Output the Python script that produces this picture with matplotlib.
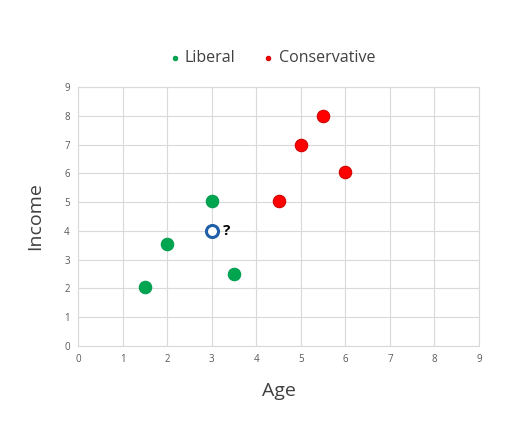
import matplotlib
matplotlib.use("Agg")
import matplotlib.pyplot as plt

lib_age = [1.5, 2.0, 3.0, 3.5]
lib_income = [2.05, 3.55, 5.05, 2.5]
con_age = [4.5, 5.0, 5.5, 6.0]
con_income = [5.05, 7.0, 8.0, 6.05]
unk_age = [3.0]
unk_income = [4.0]
unk_label = "?"

plt.rcParams['font.family'] = ['Open Sans', 'DejaVu Sans']

fig = plt.figure(figsize=(5.29, 4.23), dpi=100)
ax = fig.add_axes([78/529, 1-346/423, (479-78)/529, (346-87)/423])

ax.scatter(lib_age, lib_income, s=80, color='#00a550', edgecolors='#009e4e', linewidths=0.8, zorder=3, label='Liberal')
ax.scatter(con_age, con_income, s=80, color='#ff0000', edgecolors='#d40000', linewidths=0.8, zorder=3, label='Conservative')
ax.scatter(unk_age, unk_income, s=75, facecolors='white', edgecolors='#1f5fa8', linewidths=2.2, zorder=3)
for a, i in zip(unk_age, unk_income):
    ax.text(a + 0.25, i, unk_label, fontsize=11, fontweight='bold', va='center', ha='left', zorder=4)

ax.set_xlim(0, 9)
ax.set_ylim(0, 9)
ax.set_xticks(range(10))
ax.set_yticks(range(10))
ax.grid(True, color='#d9d9d9', linewidth=0.8)
ax.set_axisbelow(True)
for s in ax.spines.values():
    s.set_color('#d9d9d9')
    s.set_linewidth(0.8)
ax.tick_params(length=0, labelsize=7, colors='#595959', pad=6)
ax.set_xlabel('Age', fontsize=14, color='#404040', labelpad=12)
ax.set_ylabel('Income', fontsize=14, color='#404040', labelpad=14)

fig.legend(loc='center', bbox_to_anchor=(0.516, 1-58/423), ncol=2, frameon=False,
           fontsize=11.5, markerscale=0.35, handlelength=0.5, handletextpad=0.4,
           columnspacing=1.8, labelcolor='#404040')

fig.savefig('out.png', dpi=100)
